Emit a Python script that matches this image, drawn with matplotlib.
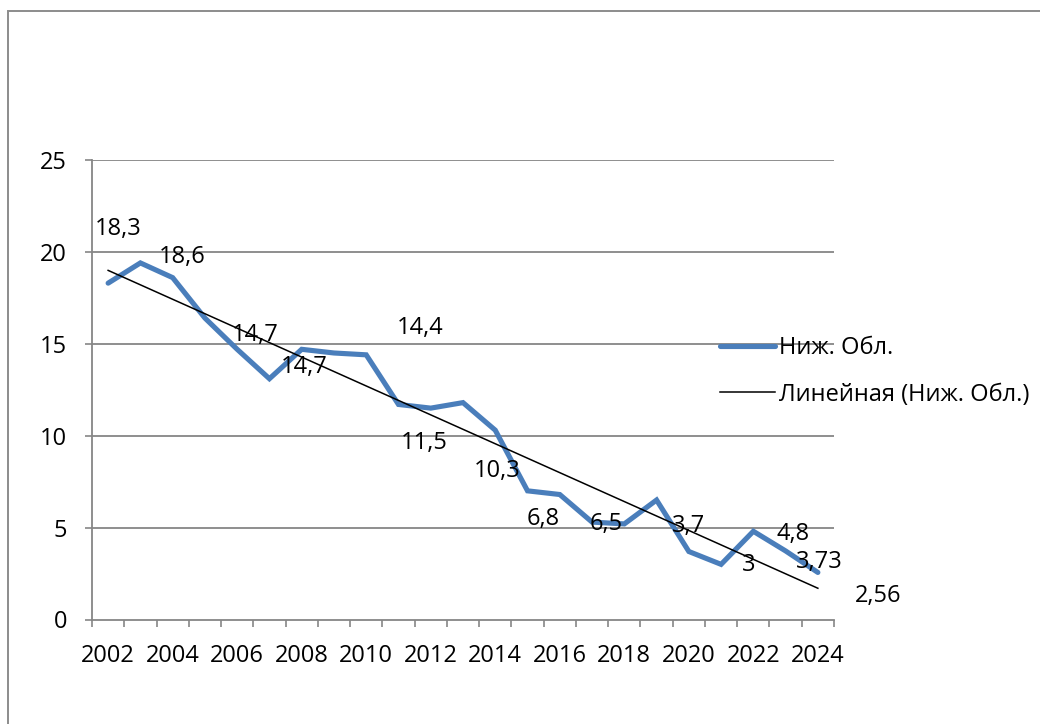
import numpy as np
import matplotlib
matplotlib.use("Agg")
import matplotlib.pyplot as plt
from matplotlib.patches import Rectangle

plt.rcParams['font.family'] = ['Open Sans', 'DejaVu Sans']

years = list(range(2002, 2025))
values = [18.3, 19.4, 18.6, 16.4, 14.7, 13.1, 14.7, 14.5, 14.4, 11.7, 11.5, 11.8,
          10.3, 7.0, 6.8, 5.3, 5.2, 6.5, 3.7, 3.0, 4.8, 3.73, 2.56]
series_name = "Ниж. Обл."
trend_name = "Линейная (Ниж. Обл.)"
y_ticks = [0, 5, 10, 15, 20, 25]

# labelled points: year -> offset of the label centre (pixels, right / up)
label_offsets = {
    2002: (10, 54), 2004: (10, 21), 2006: (18, 14), 2008: (3, -18),
    2010: (54, 27), 2012: (-6, -35), 2014: (2, -41), 2016: (-17, -24),
    2019: (-50, -24), 2020: (0, 25), 2021: (28, -1), 2022: (40, -3),
    2023: (34, -11), 2024: (60, -24),
}

FS = 17
W, H = 1040, 724
fig = plt.figure(figsize=(W / 100, H / 100), dpi=100)
ax = fig.add_axes([92 / W, 1 - 619.5 / H, (834 - 92) / W, (619.5 - 160) / H])

idx = np.arange(len(years))
vals = np.array(values)

grey = '#868686'
for yv in y_ticks[1:]:
    ax.axhline(yv, color=grey, lw=1.3, zorder=1)

ax.plot(idx, vals, color='#4A7EBB', lw=3.7, solid_capstyle='round',
        solid_joinstyle='miter', zorder=3, label=series_name)

coef = np.polyfit(idx, vals, 1)
ax.plot(idx, np.polyval(coef, idx), color='black', lw=1.1, zorder=4, label=trend_name)

px = 72 / 100
for yr, (dx, dy) in label_offsets.items():
    i = years.index(yr)
    v = values[i]
    txt = f"{v:g}".replace('.', ',')
    ax.annotate(txt, (i, v), xytext=(dx * px, dy * px), textcoords='offset points',
                ha='center', va='center', fontsize=FS, color='black', zorder=5)

ax.set_xlim(-0.5, len(years) - 0.5)
ax.set_ylim(0, 25)

ax.set_yticks(y_ticks)
ax.set_yticklabels([str(t) for t in y_ticks], fontsize=FS)
ax.tick_params(axis='y', length=5, width=1.2, color=grey, pad=13, direction='out')

ax.set_xticks(np.arange(-0.5, len(years), 1.0))
ax.set_xticklabels([])
ax.tick_params(axis='x', which='major', length=5, width=1.2, color=grey, direction='out')
ax.set_xticks(idx[::2], minor=True)
ax.set_xticklabels([str(y) for y in years[::2]], minor=True, fontsize=FS)
ax.tick_params(axis='x', which='minor', length=0, pad=18)

for s in ('top', 'right'):
    ax.spines[s].set_visible(False)
for s in ('left', 'bottom'):
    ax.spines[s].set_color(grey)
    ax.spines[s].set_linewidth(1.3)

leg = ax.legend(loc='center left', bbox_to_anchor=(720 / W, 1 - 371.5 / H),
                bbox_transform=fig.transFigure, frameon=False, fontsize=FS,
                handlelength=2.35, handletextpad=0.15, labelspacing=0.95,
                borderpad=0, borderaxespad=0)

fig.patches.append(Rectangle((8 / W, -0.1), 1.2, (H - 11) / H + 0.1,
                             transform=fig.transFigure, fill=False,
                             edgecolor='#8c8c8c', lw=1.4))

fig.savefig('out.png', dpi=100)
